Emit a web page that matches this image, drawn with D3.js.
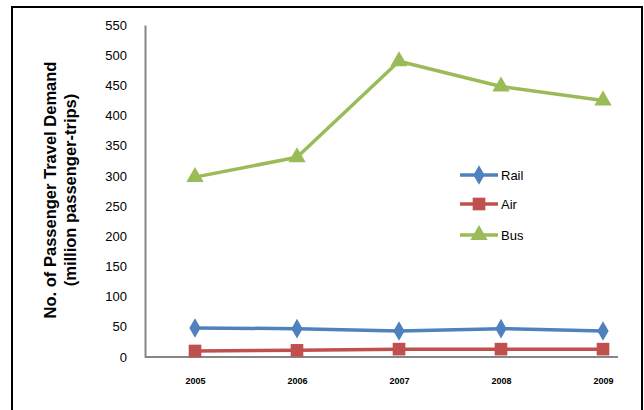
<!DOCTYPE html>
<html>
<head>
<meta charset="utf-8">
<script src="https://cdn.jsdelivr.net/npm/d3@7"></script>
<style>
  html, body { margin: 0; padding: 0; background: #fff; }
  svg { display: block; }
</style>
</head>
<body>
<svg id="chart" width="644" height="410"></svg>
<script>
// Passenger travel demand by mode (million passenger-trips)
const years = ["2005", "2006", "2007", "2008", "2009"];
const rail = [48, 47, 43, 47, 43];
const air = [10, 11, 13, 13, 13];
const bus = [298, 331, 490, 448, 425];
const yTicks = [0, 50, 100, 150, 200, 250, 300, 350, 400, 450, 500, 550];
const seriesNames = ["Rail", "Air", "Bus"];

const series = [
  { name: seriesNames[0], values: rail, color: "#4F81BD", marker: d3.symbolDiamond, size: 110 },
  { name: seriesNames[1], values: air, color: "#C0504D", marker: d3.symbolSquare, size: 160 },
  { name: seriesNames[2], values: bus, color: "#9BBB59", marker: d3.symbolTriangle, size: 130 }
];

const svg = d3.select("#chart");
const font = "'Liberation Sans', Arial, sans-serif";

// outer frame (bottom edge runs past the canvas)
svg.append("rect")
  .attr("x", 12).attr("y", 7)
  .attr("width", 630).attr("height", 420)
  .attr("fill", "none").attr("stroke", "#000").attr("stroke-width", 2);

const plotLeft = 145, plotRight = 618, plotTop = 25, plotBottom = 357;

const y = d3.scaleLinear().domain([0, 550]).range([plotBottom, plotTop]);
const x = d3.scalePoint().domain(years).range([195, 603]);

// y axis
const yAxis = svg.append("g")
  .attr("transform", `translate(${plotLeft},0)`)
  .call(d3.axisLeft(y).tickValues(yTicks).tickSize(0).tickPadding(18));
yAxis.select(".domain").attr("stroke", "#868686").attr("stroke-width", 2);
yAxis.selectAll("text")
  .attr("font-family", font).attr("font-size", 13).attr("fill", "#000");

// x axis
const xAxis = svg.append("g")
  .attr("transform", `translate(0,${plotBottom})`)
  .call(d3.axisBottom(x).tickSize(0).tickPadding(21));
xAxis.select(".domain").remove();
xAxis.append("line")
  .attr("x1", plotLeft).attr("x2", plotRight)
  .attr("stroke", "#868686").attr("stroke-width", 2);
xAxis.selectAll("text")
  .attr("font-family", font).attr("font-size", 9).attr("font-weight", "bold").attr("fill", "#000");

// y axis title
const title = svg.append("text")
  .attr("transform", "translate(0,190) rotate(-90)")
  .attr("text-anchor", "middle")
  .attr("font-family", font).attr("font-size", 16.5).attr("font-weight", "bold").attr("fill", "#000");
title.append("tspan").attr("x", 0).attr("y", 56).text("No. of Passenger Travel Demand");
title.append("tspan").attr("x", 0).attr("y", 76).text("(million passenger-trips)");

// series lines and markers
const line = d3.line().x((d, i) => x(years[i])).y(d => y(d));
series.forEach(s => {
  svg.append("path")
    .datum(s.values)
    .attr("d", line)
    .attr("fill", "none")
    .attr("stroke", s.color)
    .attr("stroke-width", 3.5)
    .attr("stroke-linejoin", "round");
  svg.append("g").selectAll("path")
    .data(s.values)
    .join("path")
    .attr("transform", (d, i) => `translate(${x(years[i])},${y(d)})`)
    .attr("d", d3.symbol().type(s.marker).size(s.size))
    .attr("fill", s.color);
});

// legend
const legend = svg.append("g");
const legendY = [175, 204, 235];
series.forEach((s, i) => {
  const g = legend.append("g").attr("transform", `translate(460,${legendY[i]})`);
  g.append("line").attr("x1", 0).attr("x2", 38)
    .attr("stroke", s.color).attr("stroke-width", 3.5);
  g.append("path")
    .attr("transform", "translate(19,0)")
    .attr("d", d3.symbol().type(s.marker).size(s.size))
    .attr("fill", s.color);
  g.append("text")
    .attr("x", 41).attr("y", 5)
    .attr("font-family", font).attr("font-size", 13).attr("fill", "#000")
    .text(s.name);
});
</script>
</body>
</html>
